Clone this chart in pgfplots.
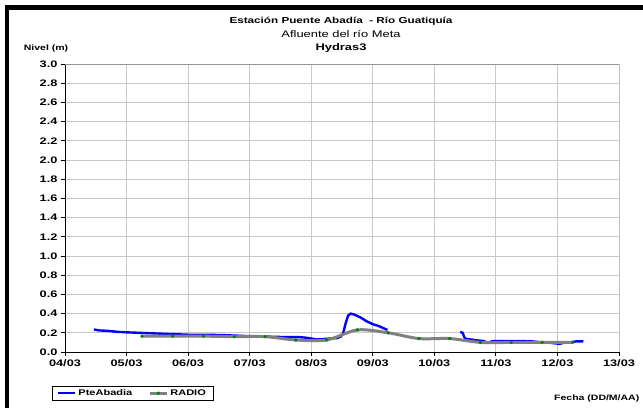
\documentclass[border=0pt]{standalone}
\usepackage{fontspec}
\setmainfont{Liberation Sans}[FakeStretch=1.35]
\usepackage{pgfplots}
\pgfplotsset{compat=1.18}
\definecolor{gridgray}{RGB}{200,200,200}
\definecolor{framegray}{RGB}{150,150,150}
\definecolor{radiogray}{RGB}{128,128,128}
\definecolor{radiogreen}{RGB}{0,128,0}
\begin{document}
\begin{tikzpicture}
\useasboundingbox (0,0) rectangle (643bp,408bp);
\fill[black] (5bp,0) rectangle (9.3bp,402.7bp);
\fill[black] (5bp,398bp) rectangle (643bp,402.7bp);
\begin{axis}[
  at={(65bp,56bp)}, anchor=south west,
  width=554bp, height=288bp, scale only axis,
  xmin=4, xmax=13, ymin=0, ymax=3,
  xtick={4,5,6,7,8,9,10,11,12,13},
  xticklabels={04/03,05/03,06/03,07/03,08/03,09/03,10/03,11/03,12/03,13/03},
  ytick={0,0.2,0.4,0.6,0.8,1.0,1.2,1.4,1.6,1.8,2.0,2.2,2.4,2.6,2.8,3.0},
  yticklabel style={/pgf/number format/.cd, fixed, fixed zerofill, precision=1, assume math mode=true},
  ticklabel style={font=\fontsize{9.5}{10}\selectfont\bfseries},
  axis x line*=bottom, axis y line*=left,
  axis line style={black, line width=0.8bp, -},
  tick align=outside, major tick length=4bp,
  tick style={black, line width=0.8bp},
  grid=major, major grid style={color=gridgray, line width=0.9bp},
  unbounded coords=jump,
  legend columns=2,
  legend style={at={(axis description cs:-0.024,-0.169)}, anchor=south west,
    draw=black, line width=0.6bp, font=\fontsize{8.2}{9}\selectfont\bfseries,
    inner xsep=5bp, inner ysep=1.5bp, /tikz/every even column/.append style={column sep=14bp}},
  legend cell align=left,
]
\addplot[blue, line width=2.4bp] coordinates {
(4.47,0.235)(4.55,0.225)(4.7,0.22)(4.85,0.21)(5.0,0.205)(5.2,0.20)(5.4,0.195)(5.6,0.19)(5.8,0.185)(6.0,0.18)(6.3,0.18)(6.6,0.175)(7.0,0.165)(7.3,0.16)(7.6,0.155)(7.8,0.155)(7.9,0.15)(8.0,0.14)(8.1,0.13)(8.2,0.135)(8.3,0.14)(8.42,0.145)(8.48,0.16)(8.52,0.20)(8.56,0.30)(8.6,0.38)(8.64,0.40)(8.7,0.39)(8.8,0.36)(8.9,0.32)(9.0,0.29)(9.1,0.27)(9.2,0.24)(9.24,0.23)
(9.8,nan)
(10.42,0.21)(10.46,0.20)(10.49,0.15)(10.52,0.135)(10.6,0.13)(10.7,0.12)(10.8,0.115)(10.87,0.095)(10.93,0.11)(11.0,0.115)(11.2,0.115)(11.4,0.115)(11.6,0.11)(11.75,0.10)(11.9,0.095)(12.03,0.085)(12.1,0.095)(12.2,0.10)(12.3,0.11)(12.42,0.11)
};
\addlegendentry{PteAbadia}
\addplot[radiogray, line width=3bp, smooth, tension=0.5, mark=*, mark size=1.6bp,
  mark options={fill=radiogreen, draw=radiogreen, line width=0.1bp}] coordinates {
(5.25,0.165)(5.75,0.165)(6.25,0.165)(6.75,0.16)(7.25,0.16)(7.75,0.125)(8.25,0.125)(8.75,0.23)(9.25,0.20)(9.75,0.14)(10.25,0.14)(10.75,0.10)(11.25,0.10)(11.75,0.10)(12.25,0.10)
};
\addlegendentry{RADIO}
\draw[framegray, line width=0.9bp] (rel axis cs:0,1) -- (rel axis cs:1,1) -- (rel axis cs:1,0);
\end{axis}
\node[anchor=base, font=\fontsize{8.7}{11}\selectfont\bfseries] at (341bp,384bp) {Estación Puente Abadía\ \ - Río Guatiquía};
\node[anchor=base, font=\fontsize{9.6}{11}\selectfont] at (341bp,370bp) {Afluente del río Meta};
\node[anchor=base, font=\fontsize{9.6}{11}\selectfont\bfseries] at (341bp,357bp) {Hydras3};
\node[anchor=base, font=\fontsize{7.8}{9}\selectfont\bfseries] at (46bp,357bp) {Nivel (m)};
\node[anchor=east, font=\fontsize{7.8}{9}\selectfont\bfseries, inner sep=0pt] at (639.5bp,10bp) {Fecha (DD/M/AA)};
\end{tikzpicture}
\end{document}
